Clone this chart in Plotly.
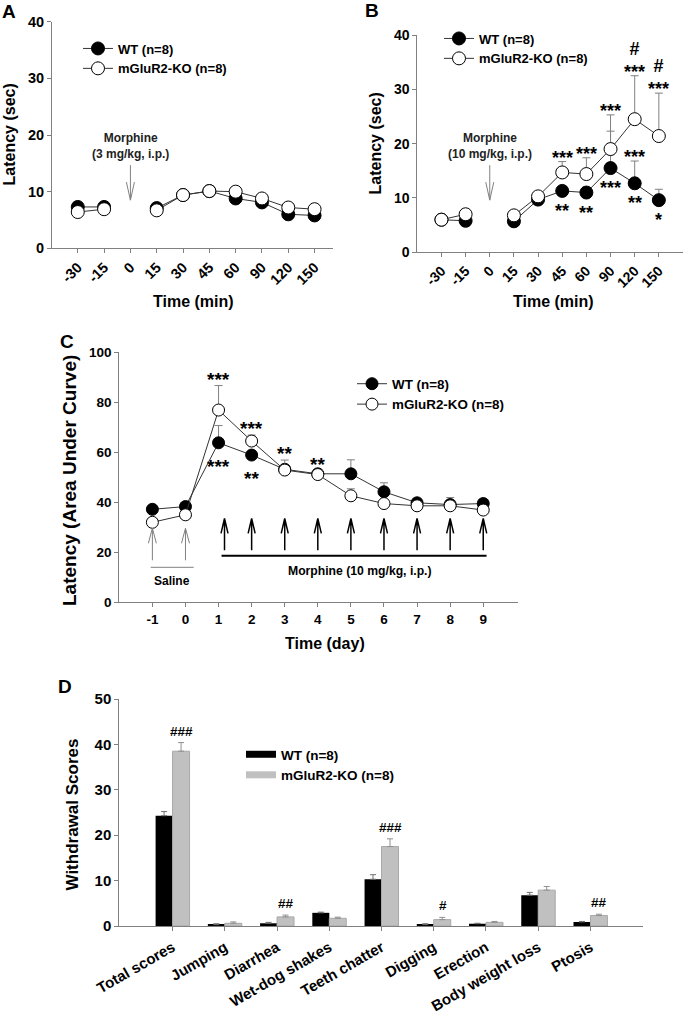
import plotly.graph_objects as go

# ---------------- data ----------------
time_labels = ["-30", "-15", "0", "15", "30", "45", "60", "90", "120", "150"]

a_wt = [7.3, 7.3, None, 7.1, 9.4, 10.1, 8.8, 8.1, 6.0, 5.8]
a_ko = [6.4, 6.9, None, 6.7, 9.4, 10.1, 10.0, 8.8, 7.2, 6.9]
a_wt_err = [0.3, 0.3, 0, 0.3, 0.4, 0.4, 0.4, 0.4, 0.3, 0.3]
a_ko_err = [0.3, 0.3, 0, 0.3, 0.4, 0.4, 0.4, 0.4, 0.3, 0.3]

b_wt = [6.0, 5.8, None, 5.7, 9.7, 11.3, 11.0, 15.5, 12.7, 9.6]
b_ko = [6.0, 7.0, None, 6.8, 10.3, 14.7, 14.4, 19.0, 24.5, 21.4]
b_wt_err = [0.3, 0.3, 0, 0.3, 0.4, 0.5, 1.0, 6.8, 4.1, 2.0]
b_ko_err = [0.3, 0.3, 0, 0.3, 0.4, 2.0, 3.0, 6.3, 8.0, 7.9]
b_sig_ko_above = ["", "", "", "", "", "***", "***", "***", "#<br>***", "#<br>***"]
b_sig_wt_above = ["", "", "", "", "", "", "", "", "***", ""]
b_sig_wt_below = ["", "", "", "", "", "**", "**", "***", "**", "*"]

days = [-1, 0, 1, 2, 3, 4, 5, 6, 7, 8, 9]
c_wt = [37.2, 38.3, 63.8, 58.9, 53.2, 51.4, 51.4, 44.2, 39.8, 39.1, 39.5]
c_ko = [32.0, 35.0, 76.9, 64.5, 52.9, 51.1, 42.6, 39.5, 38.6, 38.6, 36.9]
c_wt_err = [0.6, 0.6, 6.9, 0.6, 0.5, 0.5, 5.6, 3.6, 1.2, 2.8, 1.6]
c_ko_err = [0.5, 0.5, 9.8, 2.4, 4.0, 1.5, 2.8, 0.6, 0.5, 0.5, 0.5]
c_sig_ko_above = ["", "", "***", "***", "**", "**", "", "", "", "", ""]
c_sig_wt_below = ["", "", "***", "**", "", "", "", "", "", "", ""]
saline_days = [-1, 0]
morphine_arrow_days = [1.18, 2, 3, 4, 5, 6, 7, 8, 9]

symptoms = ["Total scores", "Jumping", "Diarrhea", "Wet-dog shakes", "Teeth chatter",
            "Digging", "Erection", "Body weight loss", "Ptosis"]
d_wt = [24.3, 0.3, 0.6, 2.9, 10.3, 0.3, 0.5, 6.8, 0.9]
d_wt_err = [0.9, 0.2, 0.2, 0.15, 1.0, 0.2, 0.1, 0.6, 0.1]
d_ko = [38.5, 0.6, 2.0, 1.7, 17.5, 1.4, 0.8, 7.9, 2.3]
d_ko_err = [1.9, 0.3, 0.4, 0.25, 1.7, 0.5, 0.2, 0.8, 0.3]
d_sig = ["###", "", "##", "", "###", "#", "", "", "##"]

names = ["WT (n=8)", "mGluR2-KO (n=8)"]

# ---------------- helpers ----------------
W, H = 685, 1013
ARIAL = "Arial"
GRAY = "#808080"
LINEC = "#333333"


def px(x):
    return x / W


def py(y):
    return 1 - y / H


fig = go.Figure()


def err(arr, color=GRAY, width=4):
    return dict(type="data", array=arr, arrayminus=[0] * len(arr), symmetric=False,
                color=color, thickness=1, width=width)


def add_line_pair(x, wt, ko, wte, koe, xa, ya, legend, msize):
    fig.add_trace(go.Scatter(
        x=x, y=wt, mode="lines+markers", name=names[0], legend=legend,
        xaxis=xa, yaxis=ya, connectgaps=False,
        line=dict(color=LINEC, width=1),
        marker=dict(symbol="circle", size=msize, color="black", line=dict(color="black", width=1)),
        error_y=err(wte)))
    fig.add_trace(go.Scatter(
        x=x, y=ko, mode="lines+markers", name=names[1], legend=legend,
        xaxis=xa, yaxis=ya, connectgaps=False,
        line=dict(color=LINEC, width=1),
        marker=dict(symbol="circle", size=msize, color="white", line=dict(color="black", width=1)),
        error_y=err(koe)))


add_line_pair(time_labels, a_wt, a_ko, a_wt_err, a_ko_err, "x", "y", "legend", 13)
add_line_pair(time_labels, b_wt, b_ko, b_wt_err, b_ko_err, "x2", "y2", "legend2", 13)
add_line_pair(days, c_wt, c_ko, c_wt_err, c_ko_err, "x3", "y3", "legend3", 12)

fig.add_trace(go.Bar(x=symptoms, y=d_wt, name=names[0], showlegend=False, offsetgroup="wt",
                     xaxis="x4", yaxis="y4", marker=dict(color="black", line=dict(width=0)),
                     error_y=err(d_wt_err, "#707070", 3)))
fig.add_trace(go.Bar(x=symptoms, y=d_ko, name=names[1], showlegend=False, offsetgroup="ko",
                     xaxis="x4", yaxis="y4", marker=dict(color="#c0c0c0", line=dict(color="#a8a8a8", width=1)),
                     error_y=err(d_ko_err, "#909090", 3)))
# legend swatches for panel D
fig.add_trace(go.Scatter(x=[None], y=[None], mode="lines", name=names[0], legend="legend4",
                         xaxis="x4", yaxis="y4", line=dict(color="black", width=7)))
fig.add_trace(go.Scatter(x=[None], y=[None], mode="lines", name=names[1], legend="legend4",
                         xaxis="x4", yaxis="y4", line=dict(color="#c0c0c0", width=7)))

# ---------------- axes ----------------


def axstyle(size, **kw):
    d = dict(showline=True, linecolor=GRAY, linewidth=1, ticks="outside", ticklen=4,
             tickcolor=GRAY, showgrid=False, zeroline=False, fixedrange=True, automargin=False,
             tickfont=dict(family=ARIAL, size=size, color="black", weight="bold"))
    d.update(kw)
    return d


fig.update_layout(
    xaxis=axstyle(14.5, domain=[px(52), px(333)], anchor="y", type="category",
                  categoryorder="array", categoryarray=time_labels, range=[-0.98, 9.7], tickangle=-45),
    yaxis=axstyle(14.5, domain=[py(248.3), py(21.7)], anchor="x", range=[0, 40], dtick=10),
    xaxis2=axstyle(14, domain=[px(417.3), px(683)], anchor="y2", type="category",
                   categoryorder="array", categoryarray=time_labels, range=[-1.0, 10.0], tickangle=-45),
    yaxis2=axstyle(14, domain=[py(252.3), py(35)], anchor="x2", range=[0, 40], dtick=10),
    xaxis3=axstyle(13.5, domain=[px(119.3), px(518.3)], anchor="y3", range=[-2, 10.06],
                   tickvals=days, ticktext=[str(d) for d in days]),
    yaxis3=axstyle(13.5, domain=[py(602.3), py(352.3)], anchor="x3", range=[0, 100], dtick=20),
    xaxis4=axstyle(15, domain=[px(119.3), px(642.7)], anchor="y4", type="category",
                   categoryorder="array", categoryarray=symptoms, range=[-1.02, 9.0], tickangle=-30,
                   ticklabelstandoff=2),
    yaxis4=axstyle(15, domain=[py(926), py(699)], anchor="x4", range=[0, 50], dtick=10),
    barmode="group", bargap=0.35, bargroupgap=0,
)

# ---------------- legends ----------------


def leg(x0, ytop, size):
    return dict(x=px(x0), y=py(ytop), xanchor="left", yanchor="top", bgcolor="rgba(0,0,0,0)",
                borderwidth=0, tracegroupgap=0,
                font=dict(family=ARIAL, size=size, color="black", weight="bold"))


fig.update_layout(
    legend=leg(78, 33.5, 13),
    legend2=leg(439, 23.5, 13),
    legend3=leg(352, 368.5, 13.4),
    legend4=leg(241, 739, 13.5),
    showlegend=True,
)

# ---------------- annotations ----------------
ann = []
shapes = []


def text(x, y, s, size, angle=0):
    ann.append(dict(x=px(x), y=py(y), xref="paper", yref="paper", text=s, showarrow=False,
                    textangle=angle, xanchor="center", yanchor="middle",
                    font=dict(family=ARIAL, size=size, color="black", weight="bold")))


text(8.5, 11.7, "A", 19)
text(372.5, 10.5, "B", 19)
text(66.7, 341.7, "C", 19)
text(64.5, 686.7, "D", 19)
text(8.5, 135, "Latency (sec)", 16, angle=-90)
text(193, 301, "Time (min)", 16)
text(375, 143.5, "Latency (sec)", 16, angle=-90)
text(553, 301, "Time (min)", 16)
text(69, 481, "Latency (Area Under Curve)", 19, angle=-90)
text(325, 643, "Time (day)", 16)
text(71.5, 815, "Withdrawal Scores", 17, angle=-90)


def sig(xr, yr, x, y, s, size, anchor, yshift, xshift=0):
    ann.append(dict(x=x, y=y, xref=xr, yref=yr, text=s, showarrow=False, xanchor="center",
                    yanchor=anchor, yshift=yshift, xshift=xshift,
                    font=dict(family=ARIAL, size=size, color="black", weight="bold")))


# category positions on panels A/B are given by index (labels look numeric)
for i in range(len(time_labels)):
    if b_sig_ko_above[i]:
        sig("x2", "y2", i, b_ko[i] + b_ko_err[i], b_sig_ko_above[i], 18, "bottom", -8)
    if b_sig_wt_above[i]:
        sig("x2", "y2", i, b_wt[i] + b_wt_err[i], b_sig_wt_above[i], 18, "bottom", -8)
    if b_sig_wt_below[i]:
        sig("x2", "y2", i, b_wt[i], b_sig_wt_below[i], 18, "top", -8)

for i, d in enumerate(days):
    if c_sig_ko_above[i]:
        sig("x3", "y3", d, c_ko[i] + c_ko_err[i], c_sig_ko_above[i], 19, "bottom", -6)
    if c_sig_wt_below[i]:
        sig("x3", "y3", d, c_wt[i], c_sig_wt_below[i], 19, "top", -11)

for i, s in enumerate(symptoms):
    if d_sig[i]:
        sig("x4", "y4", s, d_ko[i] + d_ko_err[i], d_sig[i], 13.5, "bottom", 2, xshift=9)

# morphine injection markers (panels A and B)
inj = time_labels.index("0")
for xr, yr, tip, label in [("x", "y", 8.5, "Morphine<br>(3 mg/kg, i.p.)"),
                           ("x2", "y2", 9.6, "Morphine<br>(10 mg/kg, i.p.)")]:
    ann.append(dict(x=inj, y=tip, xref=xr, yref=yr, text=label, showarrow=False,
                    xanchor="center", yanchor="bottom", yshift=37,
                    font=dict(family=ARIAL, size=12, color="#222222", weight="bold")))
    shapes.append(dict(type="path", xref=xr, yref=yr, xsizemode="pixel", ysizemode="pixel",
                       xanchor=inj, yanchor=tip, path="M0,0 L0,35 M-4,18 L0,0 L4,18",
                       line=dict(color=GRAY, width=1)))

# panel C injection arrows and bars
for d in saline_days:
    shapes.append(dict(type="path", xref="x3", yref="y3", xsizemode="pixel", ysizemode="pixel",
                       xanchor=d, yanchor=29.6, path="M0,0 L0,-32 M-4,-15 L0,0 L4,-15",
                       line=dict(color=GRAY, width=1)))
for d in morphine_arrow_days:
    shapes.append(dict(type="path", xref="x3", yref="y3", xsizemode="pixel", ysizemode="pixel",
                       xanchor=d, yanchor=33.6, path="M0,0 L0,-32 M-3.5,-15 L0,0 L3.5,-15",
                       line=dict(color="black", width=1.5)))
shapes.append(dict(type="line", xref="x3", yref="y3", x0=-1.05, x1=0.25, y0=14, y1=14,
                   line=dict(color=GRAY, width=1)))
shapes.append(dict(type="line", xref="x3", yref="y3", x0=1.09, x1=9.1, y0=18.6, y1=18.6,
                   line=dict(color="black", width=2)))
ann.append(dict(x=-0.4, y=8.5, xref="x3", yref="y3", text="Saline", showarrow=False,
                font=dict(family=ARIAL, size=12, color="black", weight="bold")))
ann.append(dict(x=5.27, y=12.6, xref="x3", yref="y3", text="Morphine (10 mg/kg, i.p.)",
                showarrow=False, font=dict(family=ARIAL, size=12.2, color="black", weight="bold")))

fig.update_layout(
    annotations=ann, shapes=shapes,
    width=W, height=H, margin=dict(l=0, r=0, t=0, b=0, autoexpand=False),
    paper_bgcolor="white", plot_bgcolor="white",
)

fig.write_html("out.html", config={"displayModeBar": False},
               post_script="document.body.style.margin='0px';document.body.style.padding='0px';")
